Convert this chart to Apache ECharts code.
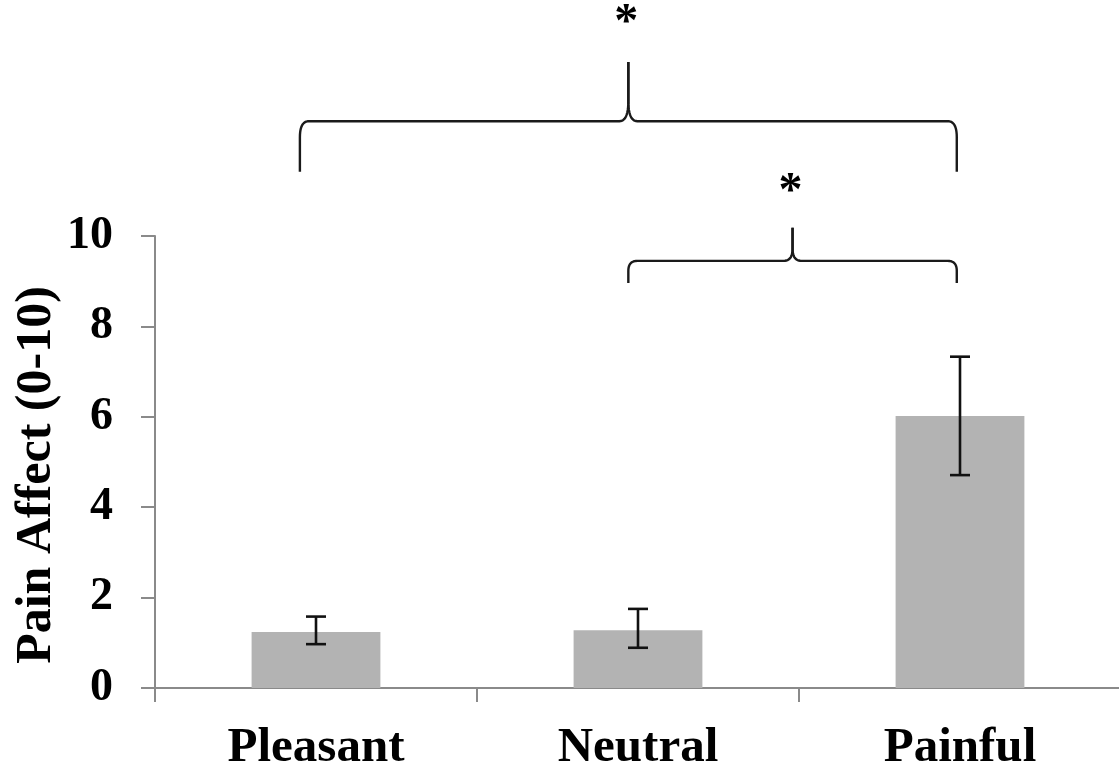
<!DOCTYPE html>
<html>
<head>
<meta charset="utf-8">
<title>Pain Affect</title>
<script src="https://cdn.jsdelivr.net/npm/echarts@6/dist/echarts.min.js"></script>
<style>
  html, body { margin: 0; padding: 0; background: #fff; }
  #chart { width: 1119px; height: 778px; }
</style>
</head>
<body>
<div id="chart"></div>
<script>
// Stimulus conditions and mean pain-affect ratings with error ranges
const categories = ['Pleasant', 'Neutral', 'Painful'];
const meanAffect = [1.24, 1.28, 6.02];
const errorLow = [0.97, 0.89, 4.71];
const errorHigh = [1.58, 1.75, 7.33];

// Rating scale ticks
const yMin = 0;
const yMax = 10;
const yStep = 2;

// Pairwise comparisons (category indices) and their significance marks
const comparisons = [[0, 2], [1, 2]];
const significance = ['*', '*'];

const FONT = '"Liberation Serif", "Times New Roman", serif';

// Vertical levels (in rating units) for each comparison bracket
const bracketLayout = [
  { foot: 11.42, bar: 12.54, tip: 13.85, star: 14.69, startShift: -0.05, endShift: -0.01, endCurve: 16, midCurve: 20 },
  { foot: 8.96, bar: 9.45, tip: 10.18, star: 10.95, startShift: -0.03, endShift: -0.01, endCurve: 10, midCurve: 12 }
];

function quadPoints(p0, c, p1, n) {
  const pts = [];
  for (let k = 1; k <= n; k++) {
    const t = k / n, u = 1 - t;
    pts.push([
      u * u * p0[0] + 2 * u * t * c[0] + t * t * p1[0],
      u * u * p0[1] + 2 * u * t * c[1] + t * t * p1[1]
    ]);
  }
  return pts;
}

// One half of a curly brace: from the foot at xEnd up to the central spike
function braceHalf(xEnd, xMid, yFoot, yBar, yTip, dir, endCurve, midCurve) {
  const rx = 9 * dir;
  const mx = 9 * dir;
  let pts = [[xEnd, yFoot], [xEnd, yBar + endCurve]];
  pts = pts.concat(quadPoints([xEnd, yBar + endCurve], [xEnd, yBar], [xEnd + rx, yBar], 12));
  pts.push([xMid - mx, yBar]);
  pts = pts.concat(quadPoints([xMid - mx, yBar], [xMid, yBar], [xMid, yBar - midCurve], 12));
  pts.push([xMid, yTip]);
  return pts;
}

function renderBracket(params, api) {
  const idx = api.value(2);
  const L = bracketLayout[idx];
  const band = api.size([1, 0])[0];
  const x1 = api.coord([api.value(0), 0])[0] + L.startShift * band;
  const x2 = api.coord([api.value(1), 0])[0] + L.endShift * band;
  const xm = (x1 + x2) / 2;
  const yFoot = api.coord([0, L.foot])[1];
  const yBar = api.coord([0, L.bar])[1];
  const yTip = api.coord([0, L.tip])[1];
  const yStar = api.coord([0, L.star])[1];
  const lineStyle = { stroke: '#1a1a1a', lineWidth: 2.4, fill: null, lineJoin: 'round' };
  return {
    type: 'group',
    children: [
      { type: 'polyline', shape: { points: braceHalf(x1, xm, yFoot, yBar, yTip, 1, L.endCurve, L.midCurve) }, style: lineStyle },
      { type: 'polyline', shape: { points: braceHalf(x2, xm, yFoot, yBar, yTip, -1, L.endCurve, L.midCurve) }, style: lineStyle },
      {
        type: 'text',
        style: {
          text: significance[idx], x: xm - 2, y: yStar,
          fill: '#000', fontSize: 48, fontWeight: 'bold', fontFamily: FONT,
          align: 'center', verticalAlign: 'middle'
        }
      }
    ]
  };
}

function renderErrorBar(params, api) {
  const i = api.value(0);
  const lo = api.coord([i, api.value(1)]);
  const hi = api.coord([i, api.value(2)]);
  const cap = 10;
  const style = { stroke: '#111', lineWidth: 2.6 };
  return {
    type: 'group',
    children: [
      { type: 'line', shape: { x1: lo[0], y1: lo[1], x2: hi[0], y2: hi[1] }, style },
      { type: 'line', shape: { x1: hi[0] - cap, y1: hi[1], x2: hi[0] + cap, y2: hi[1] }, style },
      { type: 'line', shape: { x1: lo[0] - cap, y1: lo[1], x2: lo[0] + cap, y2: lo[1] }, style }
    ]
  };
}

const chart = echarts.init(document.getElementById('chart'), null, { renderer: 'canvas' });

const axisGray = '#8a8a8a';

chart.setOption({
  animation: false,
  backgroundColor: '#fff',
  grid: { left: 155, top: 236, width: 966, bottom: 90, outerBoundsMode: 'none', containLabel: false },
  xAxis: {
    type: 'category',
    data: categories,
    boundaryGap: true,
    axisLine: { show: true, lineStyle: { color: axisGray, width: 2 } },
    axisTick: { show: true, length: 14, inside: false, alignWithLabel: false, lineStyle: { color: axisGray, width: 2 } },
    axisLabel: { margin: 36, color: '#000', fontSize: 49, fontWeight: 'bold', fontFamily: FONT }
  },
  yAxis: {
    type: 'value',
    min: yMin,
    max: yMax,
    interval: yStep,
    axisLine: { show: true, lineStyle: { color: axisGray, width: 2 } },
    axisTick: { show: true, length: 14, lineStyle: { color: axisGray, width: 2 } },
    splitLine: { show: false },
    axisLabel: { margin: 42, color: '#000', fontSize: 46, fontWeight: 'bold', fontFamily: FONT }
  },
  graphic: [{
    type: 'text',
    x: 37,
    y: 475,
    rotation: Math.PI / 2,
    style: {
      text: 'Pain Affect (0-10)',
      fill: '#000', fontSize: 50, fontWeight: 'bold', fontFamily: FONT,
      align: 'center', verticalAlign: 'middle'
    }
  }],
  series: [
    {
      type: 'bar',
      data: meanAffect,
      barWidth: '40%',
      itemStyle: { color: '#b3b3b3' },
      z: 2
    },
    {
      type: 'custom',
      renderItem: renderErrorBar,
      data: categories.map((c, i) => [i, errorLow[i], errorHigh[i]]),
      encode: { x: 0, y: [1, 2] },
      z: 3
    },
    {
      type: 'custom',
      renderItem: renderBracket,
      clip: false,
      data: comparisons.map((c, i) => [c[0], c[1], i]),
      encode: { x: [0, 1] },
      z: 4
    }
  ]
});
</script>
</body>
</html>
